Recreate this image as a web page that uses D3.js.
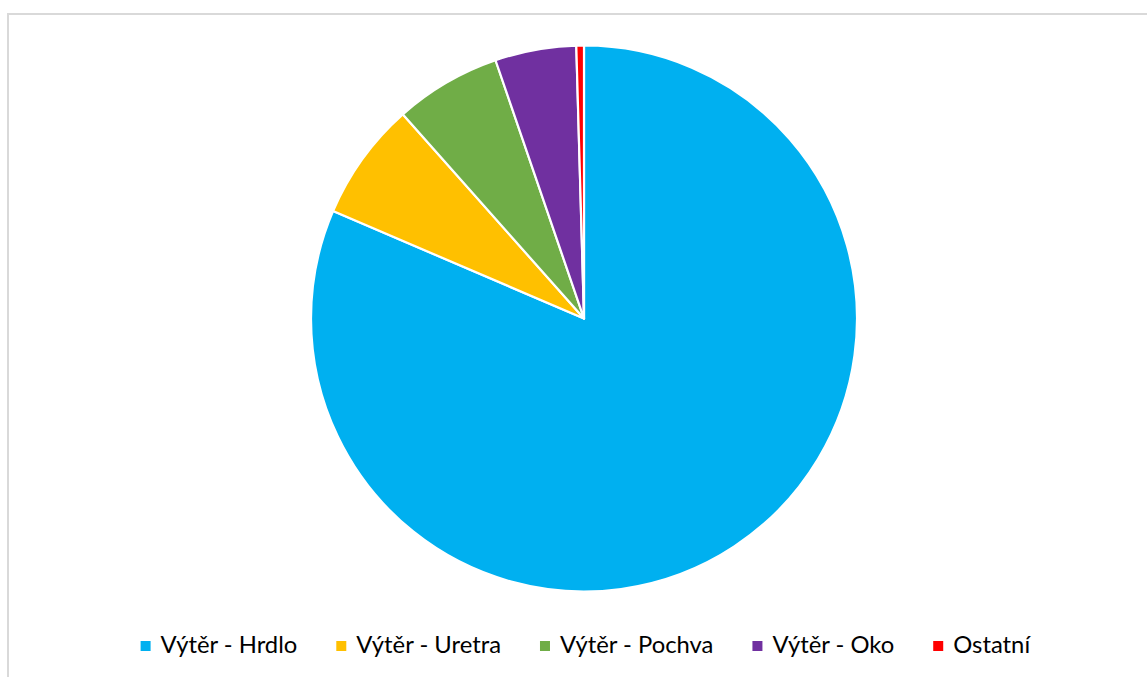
<!DOCTYPE html>
<html>
<head>
<meta charset="utf-8">
<script src="https://cdn.jsdelivr.net/npm/d3@7"></script>
<style>
  html, body { margin: 0; padding: 0; background: #ffffff; }
  svg { display: block; }
</style>
</head>
<body>
<svg id="chart" width="1147" height="677"></svg>
<script>
// Podíl odběrů podle místa výtěru (%)
const categories = ["Výtěr - Hrdlo", "Výtěr - Uretra", "Výtěr - Pochva", "Výtěr - Oko", "Ostatní"];
const values = [81.4, 7.0, 6.3, 4.8, 0.45];
const colors = ["#00b0f0", "#ffc000", "#70ad47", "#7030a0", "#ff0000"];

const svg = d3.select("#chart");
const W = 1147, H = 677;

// chart frame
svg.append("rect")
  .attr("x", 8).attr("y", 14)
  .attr("width", W + 10).attr("height", H + 10)
  .attr("fill", "#ffffff")
  .attr("stroke", "#d9d9d9")
  .attr("stroke-width", 2);

const cx = 584, cy = 318.5, radius = 273;

const data = categories.map((c, i) => ({ name: c, value: values[i], color: colors[i] }));

const pie = d3.pie().value(d => d.value).sort(null);
const arc = d3.arc().innerRadius(0).outerRadius(radius);

svg.append("g")
  .attr("transform", `translate(${cx},${cy})`)
  .selectAll("path")
  .data(pie(data))
  .join("path")
  .attr("d", arc)
  .attr("fill", d => d.data.color)
  .attr("stroke", "#ffffff")
  .attr("stroke-width", 2.2)
  .attr("stroke-linejoin", "round");

// legend
const legend = svg.append("g").attr("font-family", "Lato, 'Open Sans', sans-serif").attr("font-size", 23.8);
const items = legend.selectAll("g").data(data).join("g");
items.append("rect")
  .attr("width", 10).attr("height", 10)
  .attr("y", -10)
  .attr("fill", d => d.color);
items.append("text")
  .attr("x", 20).attr("y", 2)
  .attr("fill", "#000000")
  .text(d => d.name);

const gap = 39;
let widths = [];
items.each(function () { widths.push(this.getBBox().width); });
const total = d3.sum(widths) + gap * (widths.length - 1);
let x = 586 - total / 2;
items.attr("transform", (d, i) => {
  const t = `translate(${x},${651})`;
  x += widths[i] + gap;
  return t;
});
</script>
</body>
</html>
